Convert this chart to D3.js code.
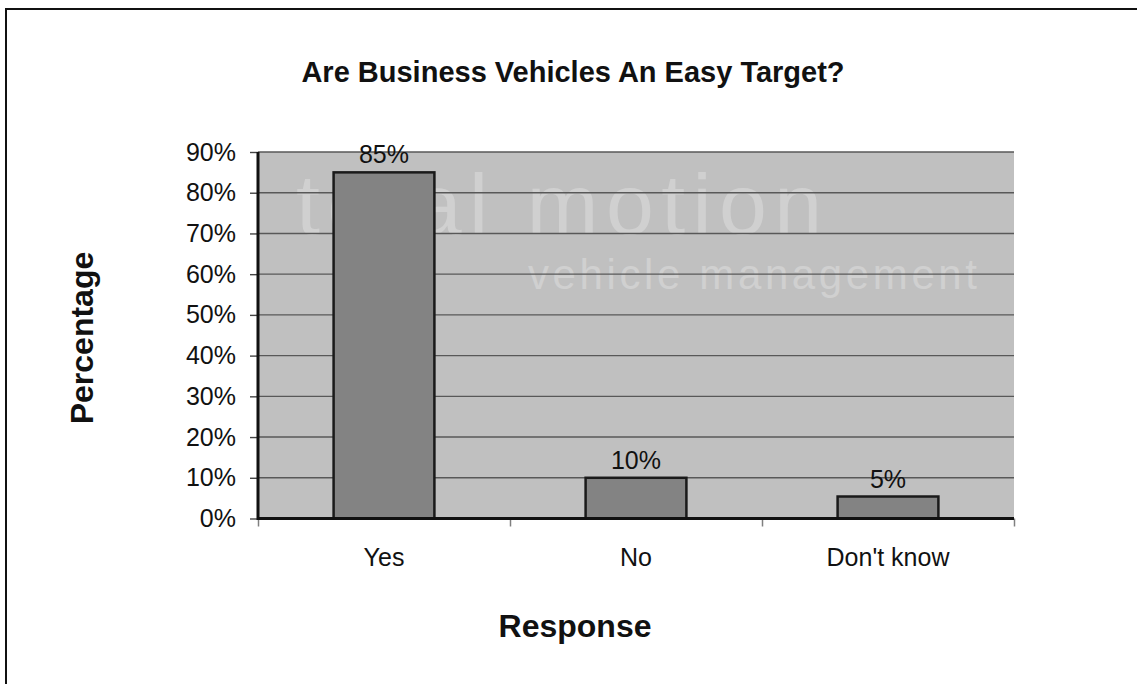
<!DOCTYPE html>
<html>
<head>
<meta charset="utf-8">
<script src="https://cdn.jsdelivr.net/npm/d3@7"></script>
<style>
  body { margin: 0; background: #fff; }
  text { font-family: Arial, "Liberation Sans", sans-serif; fill: #111; }
</style>
</head>
<body>
<script>
// data
var categories = ["Yes", "No", "Don't know"];
var values = [85, 10, 5.4];
var yTicks = [0, 10, 20, 30, 40, 50, 60, 70, 80, 90];

var width = 1137;
var height = 684;

var svg = d3.select("body")
  .append("svg")
  .attr("width", width)
  .attr("height", height);

// outer frame (right/bottom run off the page)
svg.append("rect")
  .attr("x", 6).attr("y", 9)
  .attr("width", 1300).attr("height", 900)
  .attr("fill", "none")
  .attr("stroke", "#111")
  .attr("stroke-width", 2);

var plot = { left: 258, right: 1014, top: 152, bottom: 518.5 };

var xScale = d3.scaleBand()
  .domain(categories)
  .range([plot.left, plot.right])
  .paddingInner(0.6)
  .paddingOuter(0.3);

var yScale = d3.scaleLinear()
  .domain([0, 90])
  .range([plot.bottom, plot.top]);

// plot background
svg.append("rect")
  .attr("x", plot.left).attr("y", plot.top)
  .attr("width", plot.right - plot.left)
  .attr("height", plot.bottom - plot.top)
  .attr("fill", "#c0c0c0");

// watermark
var wm = svg.append("g")
  .style("font-family", "'Open Sans', Arial, sans-serif")
  .style("font-weight", 300);
wm.append("text")
  .attr("x", 296).attr("y", 234)
  .attr("textLength", 526)
  .attr("lengthAdjust", "spacing")
  .style("font-size", "86px")
  .style("fill", "#d0d0d0")
  .text("total motion");
wm.append("text")
  .attr("x", 528).attr("y", 289)
  .attr("textLength", 449)
  .attr("lengthAdjust", "spacing")
  .style("font-size", "42px")
  .style("fill", "#d0d0d0")
  .text("vehicle management");

// gridlines
svg.selectAll(".grid")
  .data(yTicks.filter(function (d) { return d > 0; }))
  .enter()
  .append("line")
  .attr("class", "grid")
  .attr("x1", plot.left).attr("x2", plot.right)
  .attr("y1", function (d) { return yScale(d); })
  .attr("y2", function (d) { return yScale(d); })
  .attr("stroke", "#585858")
  .attr("stroke-width", 1.4);

// y axis
var yAxis = d3.axisLeft(yScale)
  .tickValues(yTicks)
  .tickSize(8)
  .tickPadding(14)
  .tickFormat(function (d) { return d + "%"; });

var gy = svg.append("g")
  .attr("transform", "translate(" + plot.left + ",0)")
  .call(yAxis);
gy.select(".domain").remove();
gy.selectAll(".tick line").attr("stroke", "#444").attr("stroke-width", 1.4);
gy.selectAll(".tick text")
  .style("font-size", "25px")
  .style("font-family", "Arial, 'Liberation Sans', sans-serif")
  .attr("fill", "#111");

// x axis ticks at band edges
var edgeScale = d3.scaleLinear().domain([0, categories.length]).range([plot.left, plot.right]);
var xAxis = d3.axisBottom(edgeScale)
  .tickValues(d3.range(categories.length + 1))
  .tickSize(8)
  .tickFormat("");
var gx = svg.append("g")
  .attr("transform", "translate(0," + plot.bottom + ")")
  .call(xAxis);
gx.select(".domain").remove();
gx.selectAll(".tick line").attr("stroke", "#808080").attr("stroke-width", 1.5);

// category labels
svg.selectAll(".cat")
  .data(categories)
  .enter()
  .append("text")
  .attr("class", "cat")
  .attr("x", function (d) { return xScale(d) + xScale.bandwidth() / 2; })
  .attr("y", 566)
  .attr("text-anchor", "middle")
  .style("font-size", "25px")
  .text(function (d) { return d; });

// bars
svg.selectAll(".bar")
  .data(values)
  .enter()
  .append("rect")
  .attr("class", "bar")
  .attr("x", function (d, i) { return xScale(categories[i]); })
  .attr("width", xScale.bandwidth())
  .attr("y", function (d) { return yScale(d); })
  .attr("height", function (d) { return yScale(0) - yScale(d); })
  .attr("fill", "#838383")
  .attr("stroke", "#1a1a1a")
  .attr("stroke-width", 2.5);

// axis lines
svg.append("line")
  .attr("x1", plot.left).attr("x2", plot.left)
  .attr("y1", plot.top).attr("y2", plot.bottom + 1.5)
  .attr("stroke", "#111").attr("stroke-width", 3);
svg.append("line")
  .attr("x1", plot.left).attr("x2", plot.right)
  .attr("y1", plot.bottom).attr("y2", plot.bottom)
  .attr("stroke", "#111").attr("stroke-width", 3);

// value labels
svg.selectAll(".val")
  .data(values)
  .enter()
  .append("text")
  .attr("class", "val")
  .attr("x", function (d, i) { return xScale(categories[i]) + xScale.bandwidth() / 2; })
  .attr("y", function (d) { return yScale(d) - 9; })
  .attr("text-anchor", "middle")
  .style("font-size", "25px")
  .text(function (d) { return Math.round(d) + "%"; });

// titles
svg.append("text")
  .attr("x", 573).attr("y", 82)
  .attr("text-anchor", "middle")
  .style("font-size", "29px")
  .style("font-weight", "bold")
  .text("Are Business Vehicles An Easy Target?");

svg.append("text")
  .attr("x", 575).attr("y", 637)
  .attr("text-anchor", "middle")
  .style("font-size", "32px")
  .style("font-weight", "bold")
  .text("Response");

svg.append("text")
  .attr("transform", "translate(93,338) rotate(-90)")
  .attr("text-anchor", "middle")
  .style("font-size", "32px")
  .style("font-weight", "bold")
  .text("Percentage");
</script>
</body>
</html>
